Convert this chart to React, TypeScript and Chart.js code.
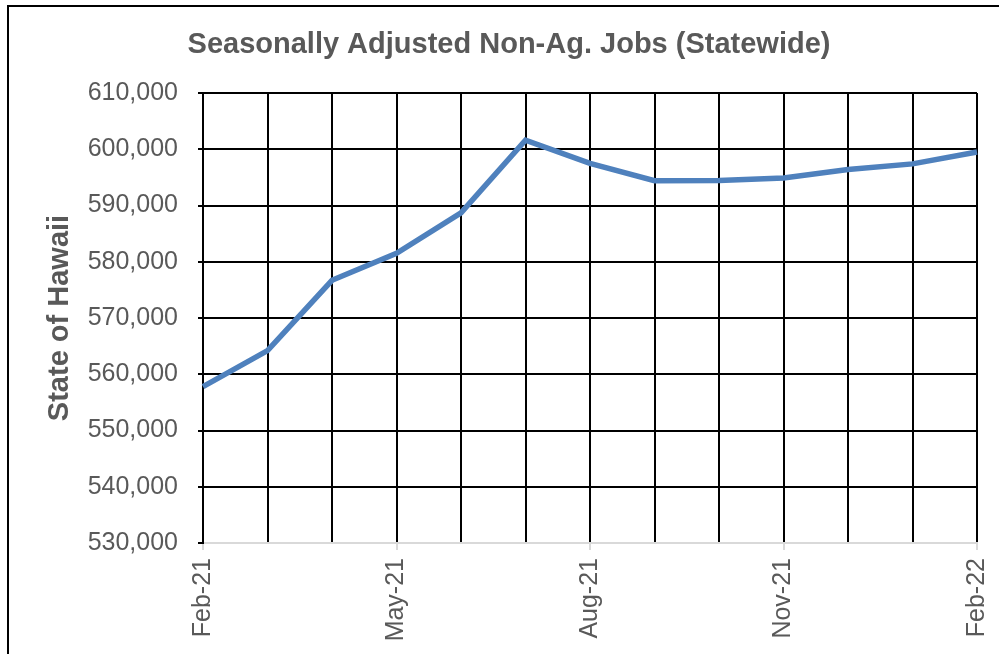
import React, { useEffect, useRef } from "react";
import { Chart, registerables } from "chart.js";

Chart.register(...registerables);

const months = [
  "Feb-21", "Mar-21", "Apr-21", "May-21", "Jun-21", "Jul-21", "Aug-21",
  "Sep-21", "Oct-21", "Nov-21", "Dec-21", "Jan-22", "Feb-22",
];
const jobs = [
  557800, 564200, 576700, 581500, 588700, 601600, 597500,
  594400, 594450, 594900, 596400, 597400, 599500,
];
const chartTitle = "Seasonally Adjusted Non-Ag. Jobs (Statewide)";
const yAxisTitle = "State of Hawaii";
const yMin = 530000;
const yMax = 610000;
const yStep = 10000;

const FONT = "'Liberation Sans', Arial, Helvetica, sans-serif";
const GRAY_TEXT = "#595959";

export default function App() {
  const ref = useRef<HTMLCanvasElement | null>(null);

  useEffect(() => {
    if (!ref.current) return;
    const chart = new Chart(ref.current, {
      type: "line",
      data: {
        labels: months,
        datasets: [
          {
            label: yAxisTitle,
            data: jobs,
            borderColor: "#4F81BD",
            backgroundColor: "#4F81BD",
            borderWidth: 5.5,
            pointRadius: 0,
            tension: 0,
            fill: false,
          },
        ],
      },
      options: {
        responsive: false,
        animation: false,
        layout: { padding: { left: 19, right: 0, top: 0, bottom: 0 } },
        plugins: {
          legend: { display: false },
          tooltip: { enabled: false },
          title: {
            display: true,
            text: chartTitle,
            color: GRAY_TEXT,
            font: { family: FONT, size: 29, weight: "bold", lineHeight: 1.2 },
            padding: { top: 27.6, bottom: 30.6 },
          },
        },
        scales: {
          x: {
            type: "category",
            offset: false,
            grid: {
              display: true,
              drawOnChartArea: true,
              drawTicks: true,
              tickLength: 7,
              color: "#000000",
              lineWidth: 2,
              tickColor: (ctx: any) =>
                ctx.index % 3 === 0 ? "#D9D9D9" : "rgba(0,0,0,0)",
              tickWidth: 2,
            },
            border: { display: true, color: "#D9D9D9", width: 2 },
            ticks: {
              autoSkip: false,
              maxRotation: 90,
              minRotation: 90,
              padding: 8,
              color: GRAY_TEXT,
              font: { family: FONT, size: 25 },
              callback: (_v: any, i: number) => (i % 3 === 0 ? months[i] : ""),
            },
            afterFit: (scale: any) => {
              scale.height = 111;
              scale.paddingRight = 22;
            },
          },
          y: {
            min: yMin,
            max: yMax,
            grid: {
              color: (ctx: any) =>
                ctx.tick && ctx.tick.value === yMin ? "#D9D9D9" : "#000000",
              lineWidth: 2,
              tickLength: 5,
              tickColor: "#000000",
            },
            border: { display: true, color: "#000000", width: 2 },
            ticks: {
              stepSize: yStep,
              padding: 20,
              color: GRAY_TEXT,
              font: { family: FONT, size: 25 },
              callback: (v: any) => Number(v).toLocaleString("en-US"),
            },
            title: {
              display: true,
              text: yAxisTitle,
              color: GRAY_TEXT,
              font: { family: FONT, size: 29, weight: "bold", lineHeight: 1.2 },
              padding: { top: 23.6, bottom: 0 },
            },
            afterFit: (scale: any) => {
              scale.width = 184;
            },
          },
        },
      },
    });
    return () => chart.destroy();
  }, []);

  return (
    <div
      style={{
        position: "absolute",
        left: 0,
        top: 0,
        width: 999,
        height: 654,
        overflow: "hidden",
        background: "#ffffff",
      }}
    >
      <canvas
        ref={ref}
        width={999}
        height={654}
        style={{ position: "absolute", left: 0, top: 0, width: 999, height: 654 }}
      />
      <div
        style={{
          position: "absolute",
          left: 7,
          top: 5,
          width: 1100,
          height: 800,
          borderLeft: "2px solid #000",
          borderTop: "2px solid #000",
          pointerEvents: "none",
        }}
      />
    </div>
  );
}
